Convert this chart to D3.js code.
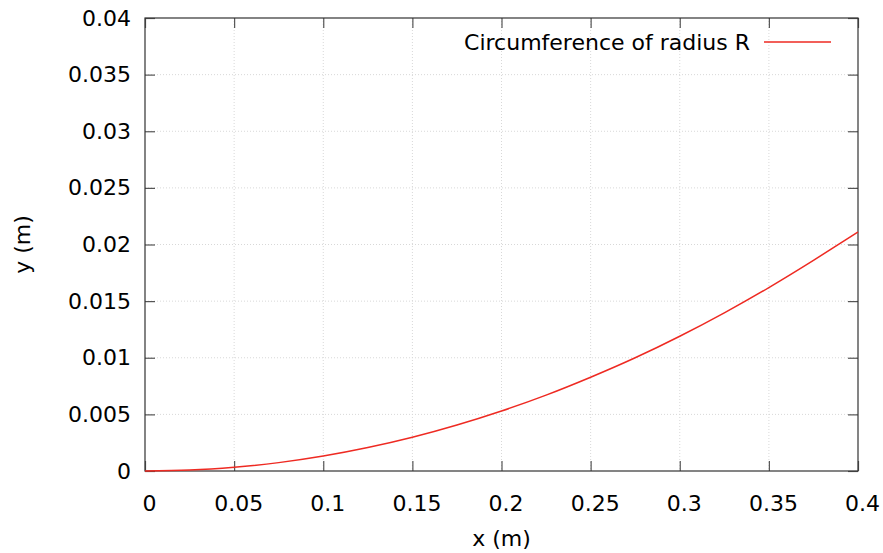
<!DOCTYPE html>
<html lang="en">
<head>
    <meta charset="UTF-8">
    <title>Circumference of radius R</title>
    <script src="https://d3js.org/d3.v7.min.js"></script>
    <style>
        body { margin: 0; background: #fff; }
        svg text { font-family: "DejaVu Sans", sans-serif; font-size: 22px; fill: #000; }
        .grid line { stroke: #d8d8d8; stroke-width: 1; stroke-dasharray: 1,2; }
    </style>
</head>
<body>
    <svg width="883" height="553"></svg>
    <script>
        // values
        const xValues = [0, 0.025, 0.05, 0.075, 0.1, 0.125, 0.15, 0.175, 0.2,
                         0.225, 0.25, 0.275, 0.3, 0.325, 0.35, 0.375, 0.4];
        const yValues = [0, 0.00008, 0.00033, 0.00074, 0.00132, 0.00207, 0.00298, 0.00406, 0.0053,
                         0.0067, 0.00828, 0.01, 0.0119, 0.01397, 0.0162, 0.0186, 0.0211];
        const xTicks = [0, 0.05, 0.1, 0.15, 0.2, 0.25, 0.3, 0.35, 0.4];
        const yTicks = [0, 0.005, 0.01, 0.015, 0.02, 0.025, 0.03, 0.035, 0.04];
        const seriesLabel = "Circumference of radius R";

        const data = xValues.map((x, i) => ({x: x, y: yValues[i]}));

        const margin = {top: 18, right: 25, bottom: 82, left: 145},
              width = 883 - margin.left - margin.right,
              height = 553 - margin.top - margin.bottom;

        const x = d3.scaleLinear().domain([0, 0.4]).range([0, width]);
        const y = d3.scaleLinear().domain([0, 0.04]).range([height, 0]);

        const svg = d3.select("svg")
          .append("g")
            .attr("transform", `translate(${margin.left},${margin.top})`);

        // dotted grid
        const grid = svg.append("g").attr("class", "grid");
        grid.selectAll(".gx")
            .data(xTicks.slice(1, -1))
            .join("line")
            .attr("x1", d => x(d)).attr("x2", d => x(d))
            .attr("y1", 0).attr("y2", height);
        grid.selectAll(".gy")
            .data(yTicks.slice(1, -1))
            .join("line")
            .attr("y1", d => y(d)).attr("y2", d => y(d))
            .attr("x1", 0).attr("x2", width);

        // axes with inward ticks, mirrored on top/right
        const fmt = d => String(+d.toFixed(3));
        const styleAxis = g => {
            g.select(".domain").remove();
            g.selectAll(".tick line").attr("stroke", "#555").attr("stroke-width", 1.2);
            g.selectAll(".tick text").attr("font-size", null).attr("font-family", null);
        };

        svg.append("g")
            .attr("transform", `translate(0,${height})`)
            .call(d3.axisBottom(x).tickValues(xTicks).tickFormat(fmt).tickSizeInner(-10).tickPadding(24))
            .call(styleAxis)
            .call(g => g.selectAll(".tick text").attr("dx", 4));

        svg.append("g")
            .call(d3.axisLeft(y).tickValues(yTicks).tickFormat(fmt).tickSizeInner(-10).tickPadding(14))
            .call(styleAxis);

        svg.append("g")
            .call(d3.axisTop(x).tickValues(xTicks).tickFormat("").tickSizeInner(-10))
            .call(styleAxis);

        svg.append("g")
            .attr("transform", `translate(${width},0)`)
            .call(d3.axisRight(y).tickValues(yTicks).tickFormat("").tickSizeInner(-10))
            .call(styleAxis);

        // frame
        svg.append("rect")
            .attr("width", width).attr("height", height)
            .attr("fill", "none").attr("stroke", "#333").attr("stroke-width", 1.2);

        // curve
        svg.append("path")
            .datum(data)
            .attr("fill", "none")
            .attr("stroke", "#ee2a22")
            .attr("stroke-width", 1.5)
            .attr("d", d3.line().x(d => x(d.x)).y(d => y(d.y)).curve(d3.curveNatural));

        // legend
        svg.append("text")
            .attr("x", 605).attr("y", 32)
            .attr("text-anchor", "end")
            .text(seriesLabel);
        svg.append("line")
            .attr("x1", 619).attr("x2", 686)
            .attr("y1", 24).attr("y2", 24)
            .attr("stroke", "#ee2a22").attr("stroke-width", 1.5);

        // axis titles
        svg.append("text")
            .attr("x", width / 2).attr("y", height + 75)
            .attr("text-anchor", "middle")
            .text("x (m)");
        svg.append("text")
            .attr("transform", `translate(${-115},${height / 2}) rotate(-90)`)
            .attr("text-anchor", "middle")
            .text("y (m)");
    </script>
</body>
</html>
